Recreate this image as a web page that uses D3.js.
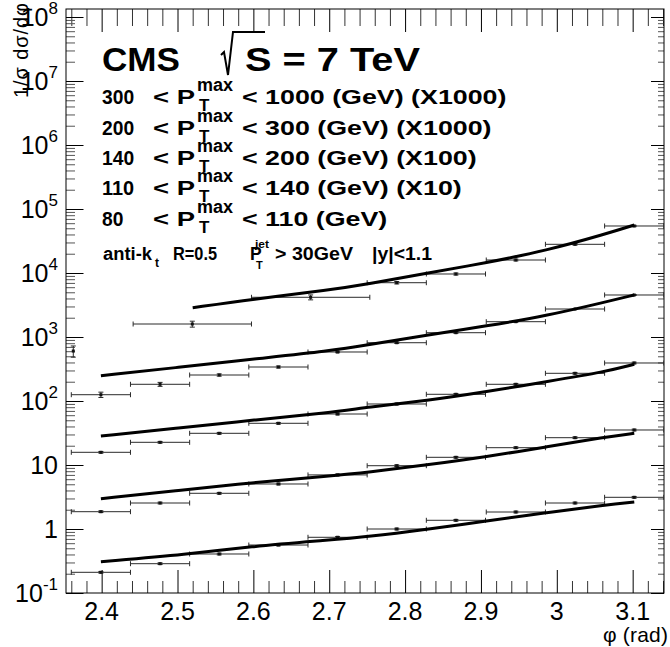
<!DOCTYPE html>
<html>
<head>
<meta charset="utf-8">
<script src="https://cdn.jsdelivr.net/npm/d3@7"></script>
<style>
body { margin: 0; background: #fff; }
svg { display: block; font-family: "Liberation Sans", Arial, Helvetica, sans-serif; }
</style>
</head>
<body>
<svg width="670" height="647"></svg>
<script>
// **** Values ****

// phi bin centres (rad) and half bin width
var binX = [2.399, 2.477, 2.555, 2.633, 2.711, 2.789, 2.867, 2.946, 3.024, 3.102];
var binHalf = 0.039;

// 300 < pT < 1000 (x1000), the low-phi points use wider bins
var hiX    = [2.3626, 2.5195, 2.6755, 2.789, 2.867, 2.946, 3.024, 3.102];
var hiXErr = [0, 0.078, 0.078, 0.039, 0.039, 0.039, 0.039, 0.039];
var hiY    = [604, 1596, 4173, 7053, 9647, 15960, 28070, 54260];
var hiYErr = [120, 170, 370, 300, 350, 500, 800, 1300];

// 200 < pT < 300 (x1000)
var y200    = [125.4, 182.4, 254.8, 339.8, 583, 814, 1167, 1734, 2738, 4532];
var y200Err = [12, 13, 10, 12, 15, 20, 25, 35, 50, 80];
// 140 < pT < 200 (x100)
var y140 = [15.79, 22.63, 31.28, 44.84, 62.64, 89.8, 127.3, 182.4, 270.9, 392.6];
// 110 < pT < 140 (x10)
var y110 = [1.864, 2.548, 3.613, 5.05, 7.0, 9.75, 13.19, 18.64, 26.71, 35.24];
// 80 < pT < 110
var y80  = [0.2106, 0.287, 0.4068, 0.562, 0.742, 1.0, 1.368, 1.843, 2.548, 3.128];

// theory curves
var fitX1 = [2.52, 2.5977, 2.701, 2.7506, 2.8284, 2.9075, 2.9857, 3.0644, 3.1021];
var fit1  = [2870, 3882, 5424, 6731, 9893, 14490, 22310, 40680, 56230];
var fitX  = [2.399, 2.5019, 2.6008, 2.701, 2.7506, 2.8284, 2.9075, 2.9857, 3.0644, 3.1021];
var fit2  = [248.5, 336.2, 453.3, 604.4, 749.9, 1075, 1486, 2129, 3524, 4532];
var fit3  = [28.39, 37.86, 50.49, 65.65, 79.69, 101.1, 139.7, 200.2, 287, 374.6];
var fit4  = [2.974, 4.01, 5.33, 6.73, 7.69, 10.0, 13.48, 19.1, 27.38, 31.28];
var fitX5 = [2.399, 2.5142, 2.5933, 2.701, 2.7506, 2.8284, 2.9075, 2.9857, 3.0644, 3.1021];
var fit5  = [0.3083, 0.4025, 0.529, 0.673, 0.758, 0.989, 1.334, 1.798, 2.371, 2.642];

// axis ticks
var xMajor = [2.4, 2.5, 2.6, 2.7, 2.8, 2.9, 3.0, 3.1];
var xLabels = ['2.4', '2.5', '2.6', '2.7', '2.8', '2.9', '3', '3.1'];
var yDecades = [-1, 0, 1, 2, 3, 4, 5, 6, 7, 8];

// legend text
var rangeLow  = ['300', '200', '140', '110', '80'];
var rangeHigh = ['< 1000 (GeV) (X1000)', '< 300 (GeV) (X1000)', '< 200 (GeV) (X100)',
                 '< 140 (GeV) (X10)', '< 110 (GeV)'];

// **** Scales ****
var L = 66, R = 664, T = 9, B = 593;

var x = d3.scaleLinear().domain([2.353, 3.1413]).range([L, R]);
var y = d3.scaleLog().domain([0.1, Math.pow(10, 8.125)]).range([B, T]);

var svg = d3.select('svg');

svg.append('defs').append('clipPath').attr('id', 'frame')
    .append('rect').attr('x', L).attr('y', T).attr('width', R - L).attr('height', B - T);

// **** Axes (ticks pointing inside, ROOT style) ****
var xMinor = d3.range(236, 315, 2).map(function(d) { return d / 100; })
    .filter(function(d) { return Math.round(d * 100) % 10 !== 0; });
var yMinor = [];
yDecades.forEach(function(d) {
    for (var m = 2; m <= 9; m++) {
        var v = m * Math.pow(10, d);
        if (v < y.domain()[1]) yMinor.push(v);
    }
});
var yMajor = yDecades.map(function(d) { return Math.pow(10, d); });

function noDomain(g) { g.select('.domain').remove(); g.selectAll('text').remove(); }

function addAxis(axis, tx, ty, values, size, colour) {
    svg.append('g')
        .attr('transform', 'translate(' + tx + ',' + ty + ')')
        .call(axis.tickValues(values).tickSize(-size).tickFormat(''))
        .call(noDomain)
        .selectAll('line').attr('stroke', colour).attr('stroke-width', 1);
}

addAxis(d3.axisBottom(x), 0, B, xMajor, 23, '#000');
addAxis(d3.axisBottom(x), 0, B, xMinor, 12, '#333');
addAxis(d3.axisTop(x), 0, T, xMajor, 23, '#000');
addAxis(d3.axisTop(x), 0, T, xMinor, 17, '#333');
addAxis(d3.axisLeft(y), L, 0, yMajor, 17.5, '#000');
addAxis(d3.axisLeft(y), L, 0, yMinor, 9, '#555');
addAxis(d3.axisRight(y), R, 0, yMajor, 13, '#000');
addAxis(d3.axisRight(y), R, 0, yMinor, 6, '#555');

svg.append('rect')
    .attr('x', L).attr('y', T).attr('width', R - L).attr('height', B - T)
    .attr('fill', 'none').attr('stroke', '#000').attr('stroke-width', 1);

// x tick labels
svg.append('g').selectAll('text')
    .data(xMajor)
    .enter()
    .append('text')
    .attr('x', function(d) { return x(d); })
    .attr('y', 620)
    .attr('text-anchor', 'middle')
    .attr('font-size', 25)
    .text(function(d, i) { return xLabels[i]; });

// y tick labels: 10^n
var yl = svg.append('g').selectAll('text')
    .data(yDecades)
    .enter()
    .append('text')
    .attr('x', 58)
    .attr('y', function(d) { return y(Math.pow(10, d)) + 9; })
    .attr('text-anchor', 'end')
    .attr('font-size', 25);
yl.append('tspan').text(function(d) { return d === 0 ? '1' : '10'; });
yl.filter(function(d) { return d !== 0 && d !== 1; })
    .append('tspan')
    .attr('dy', -12)
    .attr('font-size', 17)
    .text(function(d) { return d; });

// axis titles
svg.append('text')
    .attr('x', 668).attr('y', 642)
    .attr('text-anchor', 'end')
    .attr('font-size', 21)
    .attr('textLength', 65)
    .text('\u03c6 (rad)');

svg.append('text')
    .attr('transform', 'translate(28,3) rotate(-90)')
    .attr('text-anchor', 'end')
    .attr('font-size', 20)
    .attr('textLength', 95)
    .text('1/\u03c3 d\u03c3/d\u03c6');

// **** Data points with error bars ****
var plot = svg.append('g').attr('clip-path', 'url(#frame)');

function drawPoints(xs, xErr, ys, yErr) {
    var pts = xs.map(function(d, i) {
        return { x: d, xe: xErr[i], y: ys[i], ye: yErr[i] };
    });
    var g = plot.append('g').attr('stroke', '#2a2a2a').attr('stroke-width', 1);
    pts.forEach(function(p) {
        var cx = x(p.x), cy = y(p.y);
        if (p.xe > 0) {
            var x0 = x(p.x - p.xe), x1 = x(p.x + p.xe);
            g.append('line').attr('x1', x0).attr('x2', x1).attr('y1', cy).attr('y2', cy);
            g.append('line').attr('x1', x0).attr('x2', x0).attr('y1', cy - 2.5).attr('y2', cy + 2.5);
            g.append('line').attr('x1', x1).attr('x2', x1).attr('y1', cy - 2.5).attr('y2', cy + 2.5);
        }
        var yTop = y(p.y + p.ye), yBot = y(Math.max(p.y - p.ye, 1e-3));
        g.append('line').attr('x1', cx).attr('x2', cx).attr('y1', yTop).attr('y2', yBot);
        g.append('line').attr('x1', cx - 2.5).attr('x2', cx + 2.5).attr('y1', yTop).attr('y2', yTop);
        g.append('line').attr('x1', cx - 2.5).attr('x2', cx + 2.5).attr('y1', yBot).attr('y2', yBot);
        g.append('rect').attr('x', cx - 1.5).attr('y', cy - 1.5)
            .attr('width', 3).attr('height', 3)
            .attr('fill', '#111').attr('stroke', 'none');
    });
}

function pct(arr, f) { return arr.map(function(v) { return v * f; }); }
var half = binX.map(function() { return binHalf; });

drawPoints(hiX, hiXErr, hiY, hiYErr);
drawPoints(binX, half, y200, y200Err);
drawPoints(binX, half, y140, pct(y140, 0.03));
drawPoints(binX, half, y110, pct(y110, 0.03));
drawPoints(binX, half, y80, pct(y80, 0.03));

// **** Theory curves ****
var line = d3.line()
    .x(function(d) { return x(d[0]); })
    .y(function(d) { return y(d[1]); })
    .curve(d3.curveBasis);

[[fitX1, fit1], [fitX, fit2], [fitX, fit3], [fitX, fit4], [fitX5, fit5]].forEach(function(c) {
    plot.append('path')
        .datum(d3.zip(c[0], c[1]))
        .attr('d', line)
        .attr('fill', 'none')
        .attr('stroke', '#000')
        .attr('stroke-width', 3);
});

// **** Header text ****
svg.append('text')
    .attr('x', 102).attr('y', 71)
    .attr('font-size', 33).attr('font-weight', 'bold')
    .attr('textLength', 78).attr('lengthAdjust', 'spacingAndGlyphs')
    .text('CMS');

svg.append('path')
    .attr('d', 'M221,55 L224,52 L228,75 L233,32 L265,32')
    .attr('fill', 'none').attr('stroke', '#000').attr('stroke-width', 2);

svg.append('text')
    .attr('x', 245).attr('y', 71)
    .attr('font-size', 33).attr('font-weight', 'bold')
    .attr('textLength', 175).attr('lengthAdjust', 'spacingAndGlyphs')
    .text('S = 7 TeV');

var leg = svg.append('g').attr('font-weight', 'bold');
var baselines = [104, 135, 165, 195, 226];

rangeLow.forEach(function(lo, i) {
    var b = baselines[i];
    leg.append('text').attr('x', 102).attr('y', b).attr('font-size', 20)
        .attr('textLength', lo.length * 10.7).attr('lengthAdjust', 'spacingAndGlyphs').text(lo);
    leg.append('text').attr('x', 153).attr('y', b).attr('font-size', 20)
        .attr('textLength', 42).attr('lengthAdjust', 'spacingAndGlyphs').text('< P');
    leg.append('text').attr('x', 199).attr('y', b + 7).attr('font-size', 17).text('T');
    leg.append('text').attr('x', 197).attr('y', b - 13).attr('font-size', 18)
        .attr('textLength', 36).attr('lengthAdjust', 'spacingAndGlyphs').text('max');
    var t = leg.append('text').attr('x', 242).attr('y', b).attr('font-size', 20).text(rangeHigh[i]);
    var w = t.node().getComputedTextLength();
    t.attr('textLength', w * 1.34).attr('lengthAdjust', 'spacingAndGlyphs');
});

var jb = 260;
function small(txt, xx, yy, fs, len) {
    var t = leg.append('text').attr('x', xx).attr('y', yy).attr('font-size', fs).text(txt);
    if (len) t.attr('textLength', len).attr('lengthAdjust', 'spacingAndGlyphs');
    return t;
}
small('anti-k', 103, jb, 17.5, 49);
small('t', 155, jb + 7, 12);
small('R=0.5', 173, jb, 17.5, 44);
small('P', 250, jb, 17.5);
small('T', 256, jb + 9, 11);
small('jet', 255, jb - 12, 11, 14);
small('> 30GeV', 275, jb, 17.5, 78);
small('|y|<1.1', 372, jb, 17.5, 60);
</script>
</body>
</html>
